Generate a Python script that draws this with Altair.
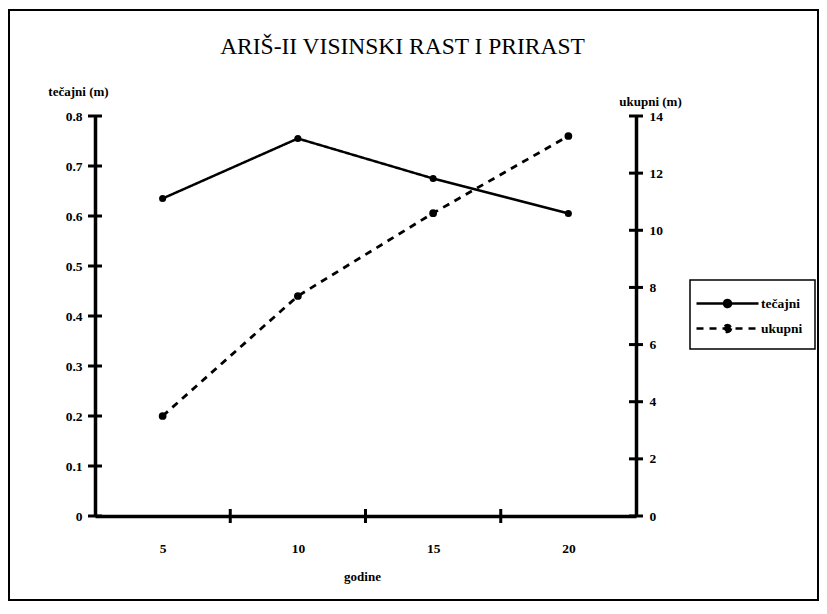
import altair as alt
import pandas as pd

years = [5, 10, 15, 20]
tecajni = [0.635, 0.755, 0.675, 0.605]
ukupni = [3.5, 7.7, 10.6, 13.3]
series_names = ["tečajni", "ukupni"]
left_ticks = [0, 0.1, 0.2, 0.3, 0.4, 0.5, 0.6, 0.7, 0.8]
right_ticks = [0, 2, 4, 6, 8, 10, 12, 14]
title_text = "ARIŠ-II VISINSKI RAST I PRIRAST"

df = pd.DataFrame({
    "godine": years + years,
    "series": [series_names[0]] * len(years) + [series_names[1]] * len(years),
    "value": tecajni + ukupni,
})
left_tick_df = pd.DataFrame({"value": left_ticks})
right_tick_df = pd.DataFrame({"value": right_ticks})
x_tick_df = pd.DataFrame({"godine": years[1:]})

FONT = "Liberation Serif, DejaVu Serif, serif"
W, H = 541, 400

x_scale = alt.Scale(type="band", paddingInner=0, paddingOuter=0, domain=years)
x_axis = alt.Axis(
    tickBand="extent", labelAngle=0, labelPadding=25, ticks=False, tickSize=0,
    titleX=267, titleY=64, titleBaseline="alphabetic",
)


def x_enc(pos):
    return alt.X("godine:O", title="godine", scale=x_scale, bandPosition=pos, axis=x_axis)


legend_path = "M-3.1,0L3.1,0M0.35,0A0.35,0.35,0,1,1,-0.35,0A0.35,0.35,0,1,1,0.35,0"

dash_enc = alt.StrokeDash(
    "series:N",
    scale=alt.Scale(domain=series_names, range=[[1, 0], [7, 6]]),
    legend=alt.Legend(
        title=None, orient="none", legendX=595, legendY=164,
        symbolType=legend_path, symbolSize=400, symbolStrokeWidth=2.5,
        symbolOffset=14, labelOffset=22, rowPadding=5,
        strokeColor="black", padding=12,
        labelFont=FONT, labelFontSize=13.5, labelFontWeight="bold", labelColor="black",
    ),
)

y_left = alt.Y(
    "value:Q", title="tečajni (m)",
    scale=alt.Scale(domain=[0, 0.8], nice=False),
    axis=alt.Axis(
        orient="left", values=left_ticks, format=".1~f", ticks=False, tickSize=0,
        labelPadding=13,
        titleAngle=0, titleX=-17, titleY=-21, titleAlign="center",
        titleBaseline="alphabetic",
    ),
)

y_right = alt.Y(
    "value:Q", title="ukupni (m)",
    scale=alt.Scale(domain=[0, 14], nice=False),
    axis=alt.Axis(
        orient="right", values=right_ticks, format="d", ticks=False, tickSize=0,
        labelPadding=13,
        titleAngle=0, titleX=14, titleY=-11, titleAlign="center",
        titleBaseline="alphabetic",
    ),
)

base = alt.Chart(df)
left_data = base.transform_filter(alt.datum.series == series_names[0])
right_data = base.transform_filter(alt.datum.series == series_names[1])

left_line = left_data.mark_line(color="black", strokeWidth=2.5).encode(
    x=x_enc(0.5), y=y_left, strokeDash=dash_enc
)
left_pts = left_data.mark_point(
    shape="circle", filled=True, color="black", size=50, opacity=1
).encode(x=x_enc(0.5), y=y_left)
left_tk = alt.Chart(left_tick_df).mark_tick(
    orient="horizontal", size=14, thickness=3, color="black", opacity=1
).encode(x=alt.value(0), y=y_left)

right_line = right_data.mark_line(color="black", strokeWidth=2.8).encode(
    x=x_enc(0.5), y=y_right, strokeDash=dash_enc
)
right_pts = right_data.mark_point(
    shape="circle", filled=True, color="black", size=60, opacity=1
).encode(x=x_enc(0.5), y=y_right)
right_tk = alt.Chart(right_tick_df).mark_tick(
    orient="horizontal", size=14, thickness=3, color="black", opacity=1
).encode(x=alt.value(W), y=y_right)

x_tk = alt.Chart(x_tick_df).mark_tick(
    orient="vertical", size=14, thickness=3, color="black", opacity=1
).encode(x=x_enc(0), y=alt.value(H))

frame = alt.Chart(pd.DataFrame({"f": [0]})).mark_rect(
    fill=None, stroke="black", strokeWidth=2
).encode(
    x=alt.value(-86), x2=alt.value(723), y=alt.value(-106), y2=alt.value(484)
)

chart = alt.layer(
    frame,
    alt.layer(left_line, left_pts, left_tk),
    alt.layer(right_line, right_pts, right_tk),
    x_tk,
).resolve_scale(
    y="independent", strokeDash="shared"
).properties(
    width=W, height=H,
    title=alt.TitleParams(
        title_text, font=FONT, fontSize=23.5, fontWeight="normal",
        color="black", anchor="middle", dx=37, dy=53,
    ),
    background="white",
    autosize=alt.AutoSizeParams(type="none"),
    padding={"left": 87, "top": 108, "right": 183, "bottom": 86},
).configure_view(stroke=None).configure_axis(
    grid=False, domainColor="black", domainWidth=3.5,
    labelFont=FONT, labelFontSize=13.5,
    labelFontWeight="bold", labelColor="black",
    titleFont=FONT, titleFontSize=13, titleFontWeight="bold", titleColor="black",
).configure_legend(
    strokeWidth=1.5, symbolBaseFillColor="black", symbolBaseStrokeColor="black"
)

chart.save("out.html", embed_options={"renderer": "svg", "actions": False})
